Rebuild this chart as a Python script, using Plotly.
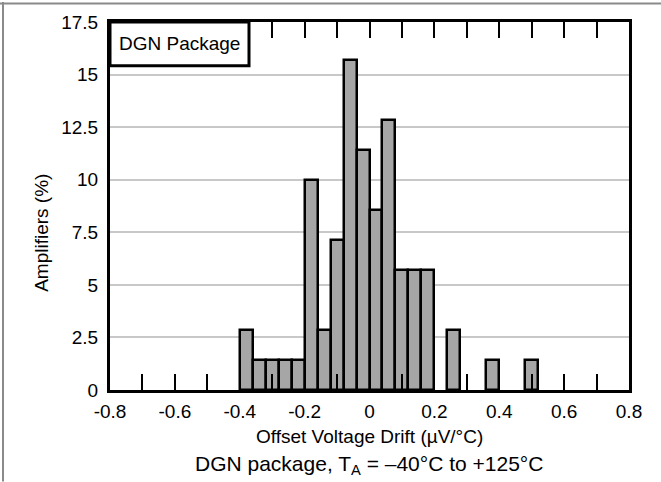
import plotly.graph_objects as go

# Bin centers (µV/°C), bin width 0.04
bin_centers = [-0.38, -0.34, -0.30, -0.26, -0.22, -0.18, -0.14, -0.10, -0.06, -0.02,
               0.02, 0.06, 0.10, 0.14, 0.18, 0.22, 0.26, 0.30, 0.34, 0.38, 0.42, 0.46, 0.50]
amplifiers_pct = [2.86, 1.43, 1.43, 1.43, 1.43, 10.0, 2.86, 7.14, 15.71, 11.43,
                  8.57, 12.86, 5.71, 5.71, 5.71, 0.0, 2.86, 0.0, 0.0, 1.43, 0.0, 0.0, 1.43]
bin_width = 0.04

x_tickvals = [-0.8, -0.6, -0.4, -0.2, 0, 0.2, 0.4, 0.6, 0.8]
x_ticktext = ["-0.8", "-0.6", "-0.4", "-0.2", "0", "0.2", "0.4", "0.6", "0.8"]
y_tickvals = [0, 2.5, 5, 7.5, 10, 12.5, 15, 17.5]
y_ticktext = ["0", "2.5", "5", "7.5", "10", "12.5", "15", "17.5"]

FONT = "Liberation Sans, Arial, sans-serif"

fig = go.Figure()
fig.add_trace(go.Bar(
    x=bin_centers, y=amplifiers_pct, width=bin_width,
    marker=dict(color="#a6a6a6",
                line=dict(color="black", width=[2.5 if v > 0 else 0 for v in amplifiers_pct])),
    hoverinfo="x+y",
))

W, H = 661, 482
L, R, T, B = 110, 32, 20, 92
pw, ph = W - L - R, H - T - B

def px(xp):
    return (xp - L) / pw

def py(yp):
    return (H - B - yp) / ph

fig.update_layout(
    width=W, height=H,
    margin=dict(l=L, r=R, t=T, b=B, pad=0),
    paper_bgcolor="white", plot_bgcolor="white",
    showlegend=False,
    bargap=0,
    font=dict(family=FONT, size=19, color="black"),
    xaxis=dict(
        range=[-0.8, 0.8], tickvals=x_tickvals, ticktext=x_ticktext,
        ticks="inside", ticklen=16, tickwidth=1.5, tickcolor="black",
        minor=dict(dtick=0.1, tick0=-0.8, ticks="inside", ticklen=16, tickwidth=1.5, tickcolor="black", showgrid=False),
        showline=True, linewidth=3, linecolor="black", mirror="ticks",
        showgrid=False, zeroline=False,
        tickfont=dict(family=FONT, size=19),
        ticklabelstandoff=2,
        fixedrange=True,
    ),
    yaxis=dict(
        range=[0, 17.5], tickvals=y_tickvals, ticktext=y_ticktext,
        ticks="", showline=True, linewidth=3, linecolor="black", mirror=True,
        showgrid=True, gridcolor="#c8c8c8", gridwidth=1.5, zeroline=False,
        ticklabelstandoff=5,
        tickfont=dict(family=FONT, size=19),
        fixedrange=True,
    ),
    shapes=[
        dict(type="rect", xref="paper", yref="paper", x0=0, x1=px(249), y0=py(64), y1=1,
             line=dict(color="black", width=3), fillcolor="white", layer="above"),
        dict(type="line", xref="paper", yref="paper", x0=px(0), x1=px(661), y0=py(1.5), y1=py(1.5),
             line=dict(color="#8a8a8a", width=2)),
        dict(type="line", xref="paper", yref="paper", x0=px(3), x1=px(3), y0=py(0), y1=py(482),
             line=dict(color="#8a8a8a", width=2)),
    ],
    annotations=[
        dict(text="DGN Package", xref="paper", yref="paper", x=px(179.5), y=py(42),
             showarrow=False, xanchor="center", yanchor="middle", font=dict(size=19)),
        dict(text="Offset Voltage Drift (µV/°C)", xref="paper", yref="paper", x=px(369), y=py(437),
             showarrow=False, xanchor="center", yanchor="middle", font=dict(size=19)),
        dict(text="Amplifiers (%)", xref="paper", yref="paper", x=px(42), y=py(232),
             showarrow=False, xanchor="center", yanchor="middle", textangle=-90, font=dict(size=19)),
        dict(text="DGN package, T<sub>A</sub> = –40°C to +125°C", xref="paper", yref="paper",
             x=px(369), y=py(465), showarrow=False, xanchor="center", yanchor="middle",
             font=dict(size=21)),
    ],
)

fig.write_html("out.html", config={"displayModeBar": False},
               post_script="document.body.style.margin='0';document.body.style.overflow='hidden';")
